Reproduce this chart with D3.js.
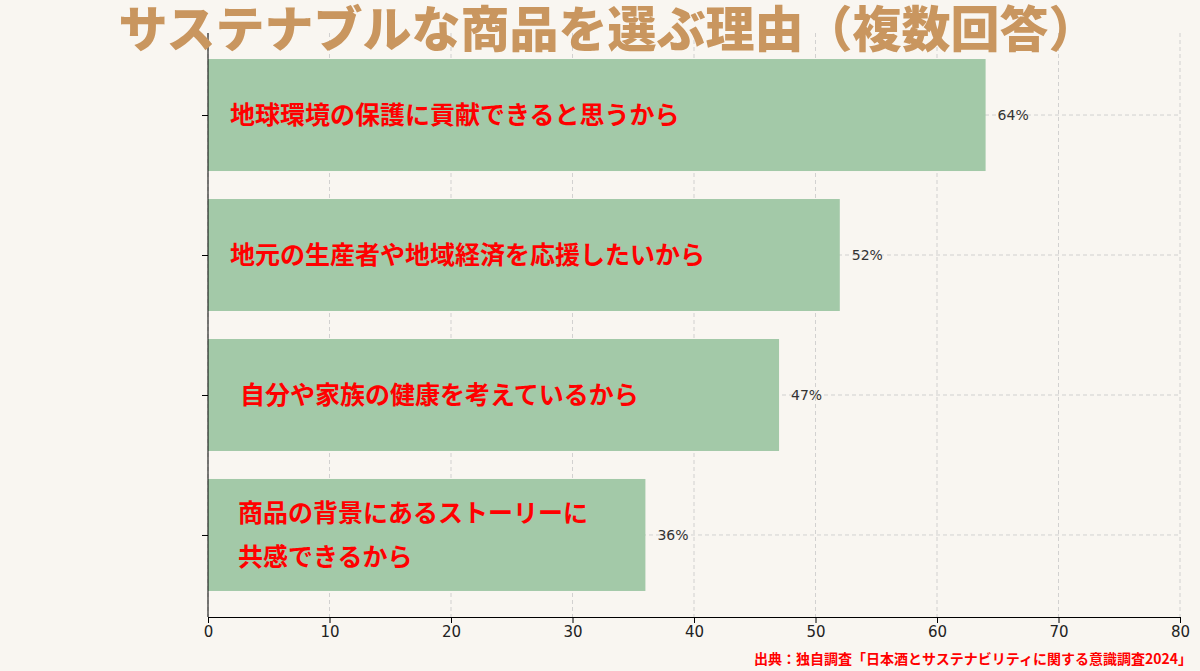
<!DOCTYPE html><html><head><meta charset="utf-8"><script src="https://d3js.org/d3.v7.min.js"></script>
<style>body{margin:0;background:#f9f6f1}</style></head><body><svg id="c" width="1200" height="671"></svg>
<script>
const categories=["地球環境の保護に貢献できると思うから","地元の生産者や地域経済を応援したいから","自分や家族の健康を考えているから","商品の背景にあるストーリーに\n共感できるから"];
const values=[64,52,47,36];
const xTicks=[0,10,20,30,40,50,60,70,80];
const svg=d3.select("#c");
svg.append("rect").attr("width",1200).attr("height",671).attr("fill","#f9f6f1");
const x=d3.scaleLinear().domain([0,80]).range([208,1180]);
const y=d3.scaleBand().domain(d3.range(4)).range([33,617]).paddingInner(0.2).paddingOuter(0.186);
const g=svg.append("g");
g.selectAll(".gx").data(xTicks).join("line").attr("x1",d=>x(d)).attr("x2",d=>x(d)).attr("y1",33).attr("y2",617)
 .attr("stroke","#c8c8c8").attr("stroke-dasharray","4,3").attr("stroke-width",0.8);
g.selectAll(".gy").data(d3.range(4)).join("line").attr("x1",208).attr("x2",1180).attr("y1",d=>y(d)+y.bandwidth()/2).attr("y2",d=>y(d)+y.bandwidth()/2)
 .attr("stroke","#c8c8c8").attr("stroke-dasharray","4,3").attr("stroke-width",0.8);
g.selectAll(".bar").data(values).join("rect").attr("x",x(0)).attr("y",(d,i)=>y(i)).attr("width",d=>x(d)-x(0)).attr("height",y.bandwidth()).attr("fill","#a3c9a8");
g.selectAll(".val").data(values).join("text").attr("x",d=>x(d)+12).attr("y",(d,i)=>y(i)+y.bandwidth()/2+5)
 .text(d=>d+"%").attr("font-family","DejaVu Sans").attr("font-size",14).attr("fill","#333");
categories.forEach((c,i)=>{
 const lines=c.split("\n");
 const cy=y(i)+y.bandwidth()/2;
 lines.forEach((l,j)=>{
  g.append("text").attr("x",i==2?240:(i==3?238:230)).attr("y",cy+9+(j-(lines.length-1)/2)*44).text(l)
   .attr("font-family","Noto Sans CJK JP").attr("font-weight","bold").attr("font-size",25).attr("fill","#ff0000");
 });
});
const xa=svg.append("g").attr("transform","translate(0,617)").call(d3.axisBottom(x).tickValues(xTicks).tickSize(6));
xa.selectAll("text").attr("font-family","DejaVu Sans").attr("font-size",15).attr("fill","#222");
const ya=svg.append("g").attr("transform","translate(208,0)").call(d3.axisLeft(d3.scaleLinear().domain([0,3]).range([y(0)+y.bandwidth()/2,y(3)+y.bandwidth()/2])).ticks(4).tickFormat("").tickSize(6));
ya.select(".domain").attr("d","M0,33V617");
svg.append("text").attr("x",608).attr("y",47).attr("text-anchor","middle").text("サステナブルな商品を選ぶ理由（複数回答）")
 .attr("font-family","Noto Sans CJK JP").attr("font-weight","900").attr("font-size",49).attr("fill","#c9965f");
svg.append("text").attr("x",1192).attr("y",664).attr("text-anchor","end").text("出典：独自調査「日本酒とサステナビリティに関する意識調査2024」")
 .attr("font-family","Noto Sans CJK JP").attr("font-weight","bold").attr("font-size",14).attr("fill","#ff0000");
</script></body></html>
